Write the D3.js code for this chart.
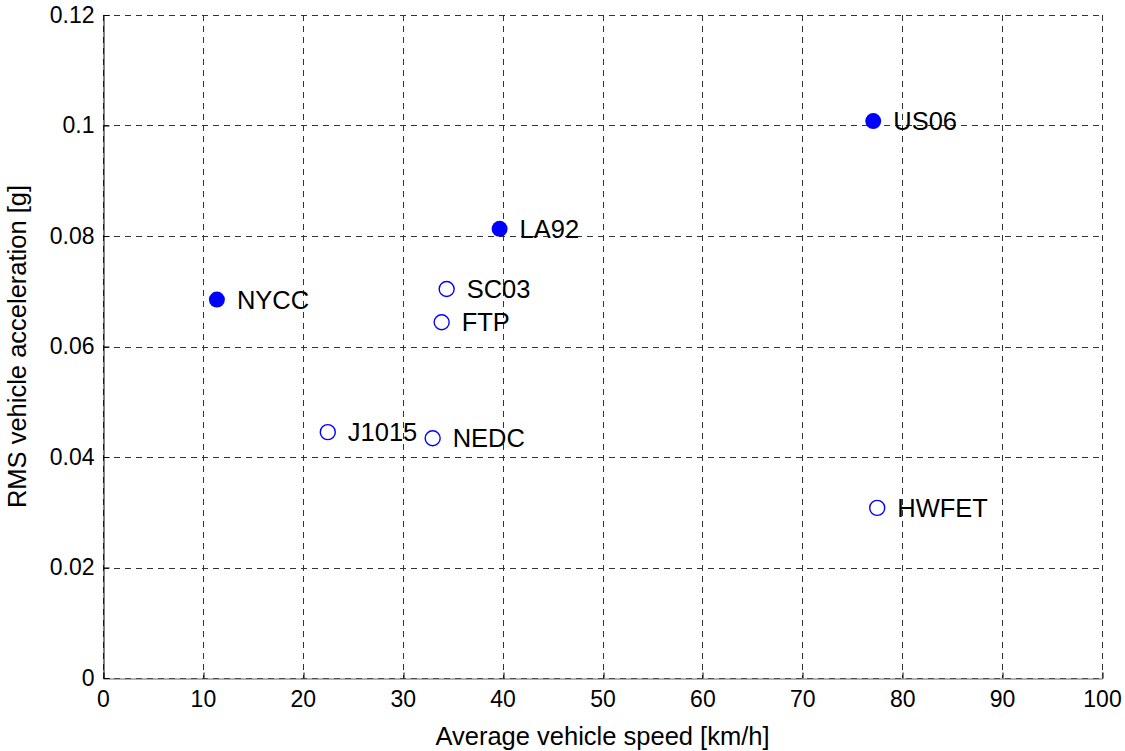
<!DOCTYPE html>
<html>
<head>
<meta charset="utf-8">
<script src="https://cdn.jsdelivr.net/npm/d3@7"></script>
<style>
  body { margin: 0; background: #fff; }
  svg text { font-family: "Liberation Sans", Arial, sans-serif; fill: #000; }
</style>
</head>
<body>
<div id="chart"></div>
<script>
// drive cycles: name, avg speed [km/h], RMS accel [g], filled marker?
const cycles = ['NYCC', 'US06', 'LA92', 'SC03', 'FTP', 'J1015', 'NEDC', 'HWFET'];
const speeds = [11.4, 77.1, 39.7, 34.4, 33.9, 22.5, 33.0, 77.5];
const rmsAccel = [0.0685, 0.1008, 0.0813, 0.0704, 0.0644, 0.0445, 0.0434, 0.0308];
const filled = [true, true, true, false, false, false, false, false];

const xTicks = [0, 10, 20, 30, 40, 50, 60, 70, 80, 90, 100];
const yTicks = [0, 0.02, 0.04, 0.06, 0.08, 0.1, 0.12];

const w = 1125;
const h = 751;
const margin = {left: 103, right: 23, top: 15, bottom: 73};

const points = cycles.map((c, i) => ({name: c, x: speeds[i], y: rmsAccel[i], filled: filled[i]}));

const xScale = d3.scaleLinear().domain([0, 100]).range([margin.left, w - margin.right]);
const yScale = d3.scaleLinear().domain([0, 0.12]).range([h - margin.bottom, margin.top]);

const svg = d3.select('#chart')
              .append('svg')
              .attr('width', w)
              .attr('height', h);

// grid
const grid = svg.append('g').attr('class', 'grid');
grid.selectAll('line.vx')
    .data(xTicks)
    .enter()
    .append('line')
    .attr('x1', d => Math.round(xScale(d)) + 0.5)
    .attr('x2', d => Math.round(xScale(d)) + 0.5)
    .attr('y1', yScale(0.12))
    .attr('y2', yScale(0))
    .attr('stroke', '#333')
    .attr('stroke-dasharray', '6,5');

grid.selectAll('line.hy')
    .data(yTicks)
    .enter()
    .append('line')
    .attr('x1', xScale(0))
    .attr('x2', xScale(100))
    .attr('y1', d => Math.round(yScale(d)) + 0.5)
    .attr('y2', d => Math.round(yScale(d)) + 0.5)
    .attr('stroke', '#333')
    .attr('stroke-dasharray', '6,5');

// axes
const xAxis = d3.axisBottom(xScale).tickValues(xTicks).tickSize(-6).tickPadding(12).tickFormat(d3.format('d'));
const yAxis = d3.axisLeft(yScale).tickValues(yTicks).tickSize(-6).tickPadding(9).tickFormat(d => d === 0 ? '0' : d3.format('.2~f')(d));

svg.append('g')
   .attr('transform', `translate(0, ${Math.round(yScale(0)) + 0.5})`)
   .call(xAxis)
   .call(g => g.select('.domain').attr('stroke', '#666'))
   .call(g => g.selectAll('.tick line').attr('stroke', '#000').attr('transform', d => `translate(${Math.round(xScale(d)) + 0.5 - xScale(d)},0)`))
   .call(g => g.selectAll('.tick text').attr('font-size', 23).attr('font-family', '"Liberation Sans", Arial, sans-serif'));

svg.append('g')
   .attr('transform', `translate(${xScale(0) + 0.5}, 0)`)
   .call(yAxis)
   .call(g => g.select('.domain').attr('stroke', '#000'))
   .call(g => g.selectAll('.tick line').attr('stroke', '#000'))
   .call(g => g.selectAll('.tick text').attr('font-size', 23).attr('font-family', '"Liberation Sans", Arial, sans-serif'));

// points
svg.selectAll('circle.pt')
   .data(points)
   .enter()
   .append('circle')
   .attr('cx', d => xScale(d.x))
   .attr('cy', d => yScale(d.y))
   .attr('r', d => d.filled ? 8 : 7.5)
   .attr('fill', d => d.filled ? '#0000ff' : '#fff')
   .attr('stroke', '#0000ff')
   .attr('stroke-width', d => d.filled ? 0 : 1.4);

svg.selectAll('text.lbl')
   .data(points)
   .enter()
   .append('text')
   .attr('x', d => xScale(d.x) + 20)
   .attr('y', d => yScale(d.y))
   .attr('dy', '0.36em')
   .attr('font-size', 25.5)
   .text(d => d.name);

// labels
svg.append('text')
   .attr('x', (xScale(0) + xScale(100)) / 2)
   .attr('y', 745)
   .attr('text-anchor', 'middle')
   .attr('font-size', 25.5)
   .text('Average vehicle speed [km/h]');

svg.append('text')
   .attr('transform', 'rotate(-90)')
   .attr('x', -(yScale(0) + yScale(0.12)) / 2)
   .attr('y', 26)
   .attr('text-anchor', 'middle')
   .attr('font-size', 25.5)
   .text('RMS vehicle acceleration [g]');
</script>
</body>
</html>
